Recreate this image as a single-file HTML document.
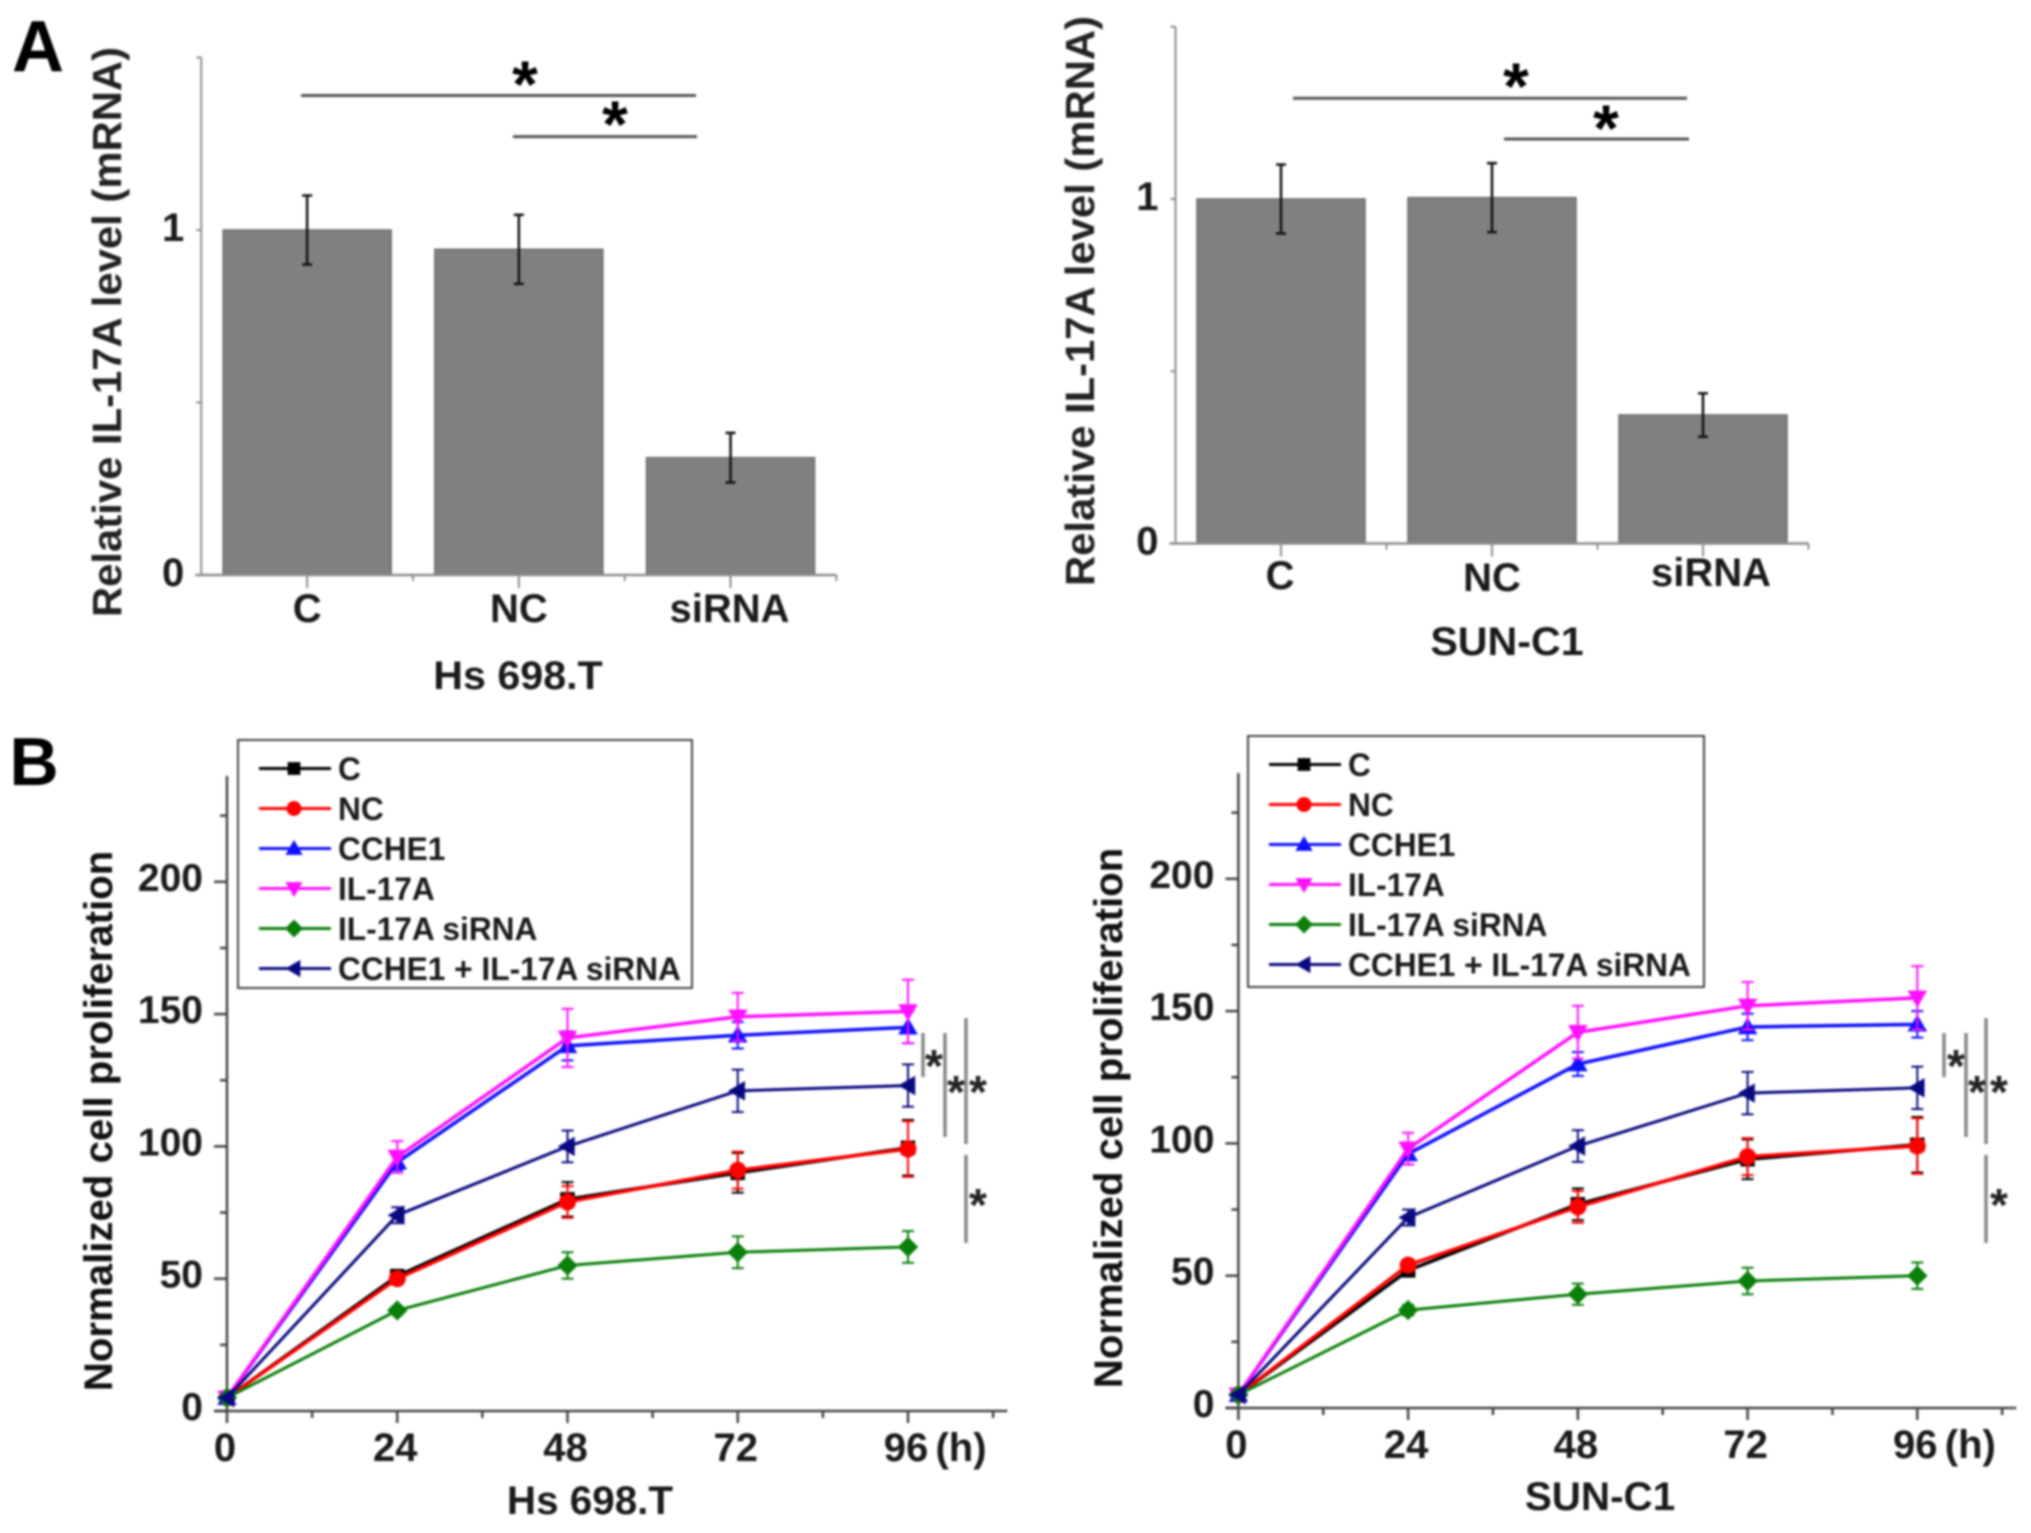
<!DOCTYPE html>
<html lang="en">
<head>
<meta charset="utf-8">
<title>IL-17A mRNA level and cell proliferation</title>
<style>
html,body{margin:0;padding:0;background:#fff;}
#figure{display:block;width:2031px;height:1533px;filter:blur(1px);}
text{font-family:"Liberation Sans",Arial,sans-serif;font-weight:bold;fill:#1a1a1a;}
</style>
</head>
<body>
<svg id="figure" xmlns="http://www.w3.org/2000/svg" width="2031" height="1533" viewBox="0 0 2031 1533">
  <rect x="0" y="0" width="2031" height="1533" fill="#fff"/>
  <text x="38" y="71" font-size="72" text-anchor="middle" style="fill:#000">A</text>
  <text x="34" y="785" font-size="68" text-anchor="middle" style="fill:#000">B</text>
</svg>
<script>
// ---- Panel A data ----
const barCategories = ['C', 'NC', 'siRNA'];
const barTickValues = [0, 0.5, 1, 1.5];
const barTickLabels = ['0', '', '1', ''];
const hsBarValues = [1, 0.944, 0.34];
const hsBarErrors = [0.1, 0.1, 0.072];
const sunBarValues = [1, 1.004, 0.373];
const sunBarErrors = [0.1, 0.1, 0.063];

// ---- Panel B data ----
const hours = [0, 24, 48, 72, 96];
const lineTickValues = [0, 50, 100, 150, 200];
const lineTickLabels = ['0', '50', '100', '150', '200'];
const seriesNames = ['C', 'NC', 'CCHE1', 'IL-17A', 'IL-17A siRNA', 'CCHE1 + IL-17A siRNA'];

const hsC = [5, 51, 80, 90, 99.5];
const hsNC = [5, 50, 79, 91, 99];
const hsCCHE1 = [5, 94, 138, 142, 145];
const hsIL17A = [5, 96, 141, 149, 151];
const hsSiRNA = [5, 38, 55, 60, 62];
const hsCombo = [5, 74, 100, 121, 123];
const hsCErr = [0, 2, 6.5, 7.5, 10.5];
const hsNCErr = [0, 2, 6, 7, 10.5];
const hsCCHE1Err = [0, 3, 5.5, 5, 6];
const hsIL17AErr = [0, 6, 11, 9, 12];
const hsSiRNAErr = [0, 1.5, 5, 6, 6];
const hsComboErr = [0, 3, 6, 8, 8];

const sunC = [5, 52, 77, 94, 99.5];
const sunNC = [5, 54, 76, 95, 99];
const sunCCHE1 = [5, 96, 130, 144, 145];
const sunIL17A = [5, 98, 142, 152, 155];
const sunSiRNA = [5, 37, 43, 48, 50];
const sunCombo = [5, 72, 99, 119, 121];
const sunCErr = [0, 2, 6, 7.5, 10.5];
const sunNCErr = [0, 2, 6, 7, 10.5];
const sunCCHE1Err = [0, 4, 4.5, 5, 5];
const sunIL17AErr = [0, 6, 10, 9, 12];
const sunSiRNAErr = [0, 2, 4, 5, 5];
const sunComboErr = [0, 3, 6, 8, 8];

const NS = 'http://www.w3.org/2000/svg';
const svg = document.getElementById('figure');
const seriesColors = ['#000000', '#ff0000', '#1010ff', '#ff10ff', '#0a800a', '#0a0a80'];
const seriesKinds = ['square', 'circle', 'up', 'down', 'diamond', 'left'];

function make(parent, tag, attrs) {
  const n = document.createElementNS(NS, tag);
  for (const k in attrs) n.setAttribute(k, attrs[k]);
  parent.appendChild(n);
  return n;
}
function line(parent, x1, y1, x2, y2, stroke, w) {
  return make(parent, 'line', {x1: x1, y1: y1, x2: x2, y2: y2, stroke: stroke, 'stroke-width': w});
}
function label(parent, str, x, y, fs, anchor, sx, rot, fill) {
  const t = make(parent, 'text', {'font-size': fs, 'text-anchor': anchor || 'middle',
    transform: 'translate(' + x + ',' + y + ')' + (rot ? ' rotate(' + rot + ')' : '') + ' scale(' + (sx || 1) + ',1)'});
  if (fill) t.style.fill = fill;
  t.textContent = str;
  return t;
}
function marker(parent, kind, x, y, color, r) {
  let n;
  if (kind === 'square') {
    n = make(parent, 'rect', {x: x - r * 0.85, y: y - r * 0.85, width: r * 1.7, height: r * 1.7, fill: color});
  } else if (kind === 'circle') {
    n = make(parent, 'circle', {cx: x, cy: y, r: r, fill: color});
  } else {
    const shapes = {
      up: [[0, -1.15], [1.15, 0.85], [-1.15, 0.85]],
      down: [[0, 1.15], [1.15, -0.85], [-1.15, -0.85]],
      diamond: [[0, -1.2], [1.2, 0], [0, 1.2], [-1.2, 0]],
      left: [[-1.15, 0], [0.85, -1.15], [0.85, 1.15]]
    };
    const pts = shapes[kind].map(function (p) { return (x + p[0] * r) + ',' + (y + p[1] * r); }).join(' ');
    n = make(parent, 'polygon', {points: pts, fill: color});
  }
  return n;
}

// ---------- Bar charts ----------
function drawBarChart(cfg, values, errors) {
  const g = make(svg, 'g', {});
  
  
  const yScale = function (v) { return cfg.y0 - v * (cfg.y0 - cfg.y1); };
  const xScale = function (i) { return cfg.x0 + (i + 0.5) * cfg.band; };
  const axisColor = '#8c8c8c';

  barCategories.forEach(function (cat, i) {
    const x = xScale(i);
    const bar = make(g, 'rect', {x: x - cfg.barW / 2, y: yScale(values[i]), width: cfg.barW,
      height: yScale(0) - yScale(values[i]), fill: '#808080', stroke: '#6c6c6c', 'stroke-width': 1.5});
    
    
  });

  const yAxis = line(g, cfg.x0, yScale(barTickValues[barTickValues.length - 1]), cfg.x0, cfg.y0, axisColor, 2);
  
  
  const xAxis = line(g, cfg.x0 - 6, cfg.y0, cfg.x0 + 3 * cfg.band, cfg.y0, axisColor, 2.5);
  
  

  barTickValues.forEach(function (v, i) {
    const tick = line(g, cfg.x0 - 5, yScale(v), cfg.x0, yScale(v), axisColor, 2);
    
    
    if (barTickLabels[i]) {
      const t = label(g, barTickLabels[i], cfg.x0 - 17, yScale(v) + 11, 40, 'end');
      
      
    }
  });

  barCategories.forEach(function (cat, i) {
    const x = xScale(i);
    const tick = line(g, x, cfg.y0, x, cfg.y0 + 13, axisColor, 2);
    
    
    const minor = line(g, cfg.x0 + (i + 1) * cfg.band, cfg.y0, cfg.x0 + (i + 1) * cfg.band, cfg.y0 + 6, axisColor, 2);
    
    
    const t = label(g, cat, x + cfg.nudgeX[i], cfg.labelY + cfg.nudgeY[i], 40, 'middle', 1);
    
    

    const hi = yScale(values[i] + errors[i]), lo = yScale(values[i] - errors[i]);
    const stem = line(g, x, hi, x, lo, '#111', 2.5);
    
    
    const capTop = line(g, x - 5, hi, x + 5, hi, '#111', 2.5);
    
    
    const capBottom = line(g, x - 5, lo, x + 5, lo, '#111', 2.5);
    
    
  });

  const yTitle = label(g, 'Relative IL-17A level (mRNA)', cfg.titleX, cfg.titleY, 41, 'middle', 1.02, -90, '#222');
  
  
  const xTitle = label(g, cfg.name, cfg.nameX, cfg.nameY, 40, 'middle', 1.03);
  
  

  cfg.sig.forEach(function (s) {
    const sl = line(g, s[0], s[2], s[1], s[2], '#555', 3);
    
    
    const st = label(g, '*', s[3], s[4] + 33, 66, 'middle', 1, 0, '#000');
    
    
  });
}

// ---------- Line charts ----------
function drawLineChart(cfg, series, errs) {
  const g = make(svg, 'g', {});
  
  
  const xScale = function (h) { return cfg.x0 + h * (cfg.x96 - cfg.x0) / 96; };
  const yScale = function (v) { return cfg.y0 - v * cfg.yUnit; };
  const axisColor = '#444';

  const yAxis = line(g, cfg.x0, yScale(240), cfg.x0, cfg.y0, axisColor, 2.5);
  
  
  const xAxis = line(g, cfg.x0 - 13, cfg.y0, xScale(110), cfg.y0, axisColor, 2.5);
  
  

  lineTickValues.forEach(function (v, i) {
    const tick = line(g, cfg.x0 - 13, yScale(v), cfg.x0, yScale(v), axisColor, 2.5);
    
    
    const minor = line(g, cfg.x0 - 7, yScale(v + 25), cfg.x0, yScale(v + 25), axisColor, 2.5);
    
    
    const t = label(g, lineTickLabels[i], cfg.x0 - 24, yScale(v) + 9, 39, 'end');
    
    
  });

  hours.forEach(function (h) {
    const tick = line(g, xScale(h), cfg.y0, xScale(h), cfg.y0 + 12, axisColor, 2.5);
    
    
    const minor = line(g, xScale(h + 12), cfg.y0, xScale(h + 12), cfg.y0 + 7, axisColor, 2.5);
    
    
    const t = label(g, String(h), xScale(h) - 2, cfg.y0 + 50, 40, 'middle');
    
    
  });

  const unit = label(g, '(h)', xScale(96) + 53, cfg.y0 + 50, 40, 'middle');
  
  
  const yTitle = label(g, 'Normalized cell proliferation', cfg.titleX, cfg.titleY, 40, 'middle', 1.005, -90, '#111');
  
  
  const xTitle = label(g, cfg.name, cfg.nameX, cfg.nameY, 40, 'middle', 1.01);
  
  

  seriesNames.forEach(function (name, s) {
    const color = seriesColors[s];
    const sg = make(g, 'g', {});
    
    
    const pts = hours.map(function (h, i) { return xScale(h) + ',' + yScale(series[s][i]); }).join(' ');
    const path = make(sg, 'polyline', {points: pts, fill: 'none', stroke: color, 'stroke-width': s === 4 || s === 5 ? 3 : 3.5});
    
    
    hours.forEach(function (h, i) {
      const x = xScale(h), y = yScale(series[s][i]);
      if (errs[s][i] > 0) {
        const hi = yScale(series[s][i] + errs[s][i]), lo = yScale(series[s][i] - errs[s][i]);
        const stem = line(sg, x, hi, x, lo, color, 2);
        
        
        const capTop = line(sg, x - 6, hi, x + 6, hi, color, 2);
        
        
        const capBottom = line(sg, x - 6, lo, x + 6, lo, color, 2);
        
        
      }
      const m = marker(sg, seriesKinds[s], x, y, color, 8.5);
      
      
    });
  });

  // legend
  const lg = make(g, 'g', {});
  
  
  const box = make(lg, 'rect', {x: cfg.legX, y: cfg.legY, width: cfg.legW, height: cfg.legH, fill: '#fff', stroke: '#444', 'stroke-width': 2});
  
  
  seriesNames.forEach(function (name, s) {
    const rowY = cfg.legY + 28.5 + s * 40;
    const ln = line(lg, cfg.legX + 21, rowY, cfg.legX + 93, rowY, seriesColors[s], 3);
    
    
    const m = marker(lg, seriesKinds[s], cfg.legX + 56, rowY, seriesColors[s], 7.5);
    
    
    const t = label(lg, name, cfg.legX + 100, rowY + 11.5, 32, 'start', 0.99);
    
    
  });

  cfg.bars.forEach(function (b) {
    const sl = line(g, b[0], b[1], b[0], b[2], '#888', 3.5);
    
    
  });
  cfg.stars.forEach(function (p) {
    const st = label(g, '*', p[0], p[1] + 23, 46, 'middle', 1, 0, '#222');
    
    
  });
}

drawBarChart({id: 'hs-698t', name: 'Hs 698.T', x0: 201.3, band: 211.7, barW: 168, y0: 575, y1: 230,
  labelY: 622, nudgeX: [0, 0, -1], nudgeY: [0, 0, 0],
  titleX: 121, titleY: 332, nameX: 518, nameY: 689,
  sig: [[301, 696, 95.5, 525, 74], [513, 697, 136.6, 615, 114]]}, hsBarValues, hsBarErrors);

drawBarChart({id: 'sun-c1', name: 'SUN-C1', x0: 1175.5, band: 211, barW: 168, y0: 543.5, y1: 199,
  labelY: 589, nudgeX: [-1, 0, 8], nudgeY: [0, 2, -3],
  titleX: 1094, titleY: 301, nameX: 1507, nameY: 655,
  sig: [[1293, 1687, 98.3, 1516, 76], [1504, 1689, 139, 1606, 118]]}, sunBarValues, sunBarErrors);

drawLineChart({id: 'hs-698t', name: 'Hs 698.T', x0: 227, x96: 908, y0: 1411, yUnit: 2.646,
  titleX: 112, titleY: 1121, nameX: 590, nameY: 1514,
  legX: 238, legY: 740, legW: 454, legH: 248,
  bars: [[923, 1033, 1077], [945, 1033, 1137], [966, 1018, 1144], [966, 1155, 1243]],
  stars: [[934, 1059], [956, 1085], [978, 1085], [978, 1198]]},
  [hsC, hsNC, hsCCHE1, hsIL17A, hsSiRNA, hsCombo],
  [hsCErr, hsNCErr, hsCCHE1Err, hsIL17AErr, hsSiRNAErr, hsComboErr]);

drawLineChart({id: 'sun-c1', name: 'SUN-C1', x0: 1238.4, x96: 1917.3, y0: 1408, yUnit: 2.646,
  titleX: 1122, titleY: 1118, nameX: 1600, nameY: 1510,
  legX: 1248, legY: 736, legW: 456, legH: 251,
  bars: [[1944, 1033, 1077], [1966, 1033, 1137], [1986, 1018, 1144], [1986, 1155, 1243]],
  stars: [[1956, 1059], [1977, 1085], [1999, 1085], [1999, 1198]]},
  [sunC, sunNC, sunCCHE1, sunIL17A, sunSiRNA, sunCombo],
  [sunCErr, sunNCErr, sunCCHE1Err, sunIL17AErr, sunSiRNAErr, sunComboErr]);
</script>
</body>
</html>
